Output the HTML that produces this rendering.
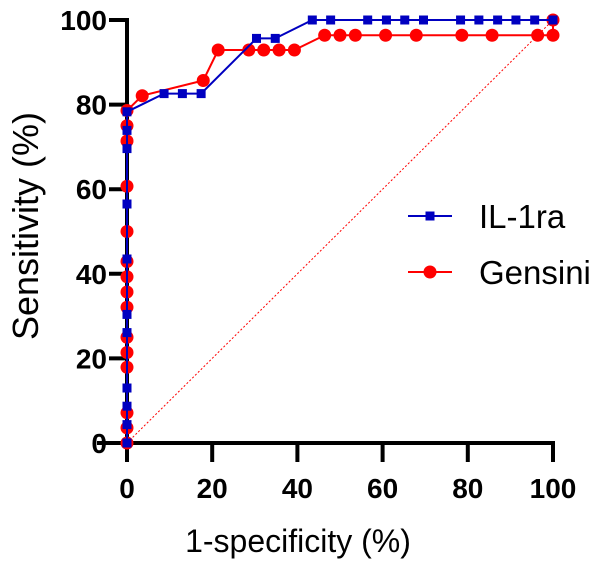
<!DOCTYPE html>
<html><head><meta charset="utf-8"><style>
html,body{margin:0;padding:0;background:#fff;}
svg{display:block;font-family:"Liberation Sans",Arial,sans-serif;}
</style></head><body>
<svg id="chart" width="600" height="563" viewBox="0 0 600 563"></svg>
<script>
const xTicks=[0,20,40,60,80,100];
const yTicks=[0,20,40,60,80,100];
const il1raX=[0,0,0,0,0,0,0,0,0,0,0,8.7,13,17.4,30.4,34.8,43.5,47.8,56.5,60.9,65.2,69.6,78.3,82.6,87,91.3,95.7,100];
const il1raY=[0,4.35,8.7,13,26.1,30.4,43.5,56.5,69.6,73.9,78.3,82.6,82.6,82.6,95.65,95.65,100,100,100,100,100,100,100,100,100,100,100,100];
const gensiniX=[0,0,0,0,0,0,0,0,0,0,0,0,0,0,0,3.57,17.9,21.4,28.6,32.1,35.7,39.3,46.4,50,53.6,60.7,67.9,78.6,85.7,96.4,100,100];
const gensiniY=[0,3.57,7.14,17.9,21.4,25,32.1,35.7,39.3,42.9,50,60.7,71.4,75,78.6,82.1,85.7,92.9,92.9,92.9,92.9,92.9,96.4,96.4,96.4,96.4,96.4,96.4,96.4,96.4,96.4,100];
const NS='http://www.w3.org/2000/svg';
const svg=document.getElementById('chart');
const X=v=>127+v*4.26, Y=v=>443-v*4.23;
function mk(t,a,p){const e=document.createElementNS(NS,t);for(const k in a)e.setAttribute(k,a[k]);(p||svg).appendChild(e);return e;}
let d=mk('line',{x1:X(0),y1:Y(0),x2:X(100),y2:Y(100),stroke:'#f00','stroke-width':1,'stroke-dasharray':'2,2'});


let ax=mk('path',{d:`M97 ${Y(0)}H${X(100)+2}`,stroke:'#000','stroke-width':4,fill:'none'});


let ay=mk('path',{d:`M${X(0)} ${Y(0)}V${Y(100)-2}`,stroke:'#000','stroke-width':4,fill:'none'});


xTicks.forEach(v=>{
 let t=mk('line',{x1:X(v),y1:Y(0),x2:X(v),y2:Y(0)+19,stroke:'#000','stroke-width':4});
 
 
 let l=mk('text',{x:X(v),y:498,'text-anchor':'middle','font-size':28,'font-weight':'bold'});
 l.textContent=v;
 
 
});
yTicks.forEach(v=>{
 let t=mk('line',{x1:X(0)-18,y1:Y(v),x2:X(0),y2:Y(v),stroke:'#000','stroke-width':4});
 
 
 let l=mk('text',{x:107,y:Y(v)+10,'text-anchor':'end','font-size':28,'font-weight':'bold'});
 l.textContent=v;
 
 
});
function series(xs,ys,color,shape,name){
 const g=mk('g',{});
 
 
 let p=mk('polyline',{points:xs.map((x,i)=>X(x)+','+Y(ys[i])).join(' '),fill:'none',stroke:color,'stroke-width':2},g);
 
 
 xs.forEach((x,i)=>{
  let m=shape==='sq'?mk('rect',{x:X(x)-4.5,y:Y(ys[i])-4.5,width:9,height:9,fill:color},g):mk('circle',{cx:X(x),cy:Y(ys[i]),r:6.5,fill:color},g);
  
  
 });
}
series(gensiniX,gensiniY,'#ff0000','c','gensini');
series(il1raX,il1raY,'#0000c0','sq','il1ra');
let lg=mk('g',{});


let l1=mk('line',{x1:408,y1:216,x2:452,y2:216,stroke:'#0000c0','stroke-width':2},lg);


let m1=mk('rect',{x:425.5,y:211.5,width:9,height:9,fill:'#0000c0'},lg);


let t1=mk('text',{x:479,y:228,'font-size':33},lg);t1.textContent='IL-1ra';


let l2=mk('line',{x1:408,y1:272,x2:452,y2:272,stroke:'#ff0000','stroke-width':2},lg);


let m2=mk('circle',{cx:430,cy:272,r:6.5,fill:'#ff0000'},lg);


let t2=mk('text',{x:479,y:284,'font-size':33},lg);t2.textContent='Gensini';


let xt=mk('text',{x:298,y:552,'text-anchor':'middle','font-size':32});
xt.textContent='1-specificity (%)';


let yt=mk('text',{x:0,y:0,'text-anchor':'middle','font-size':36,transform:'translate(38,226) rotate(-90)'});
yt.textContent='Sensitivity (%)';


</script>
</body></html>
